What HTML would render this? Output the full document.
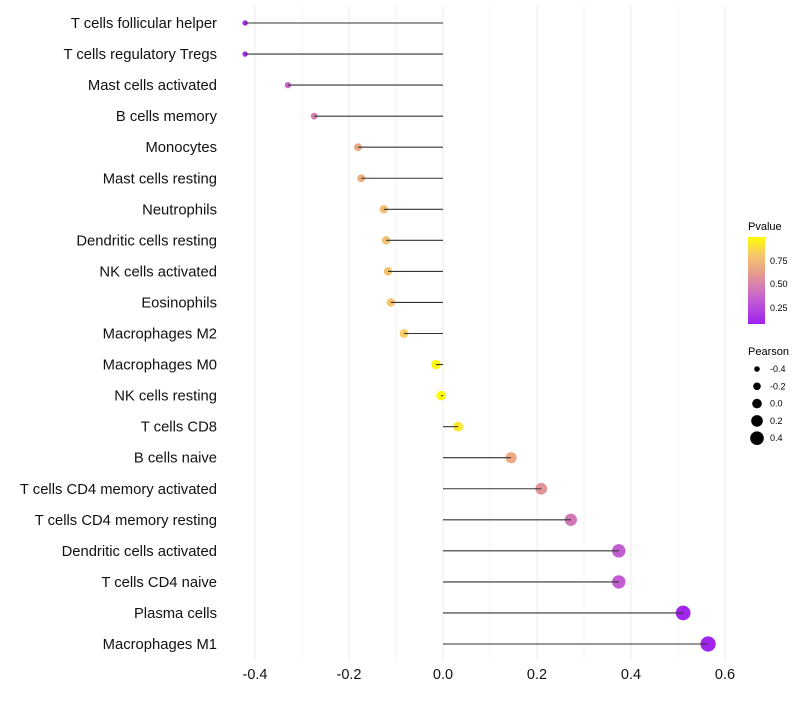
<!DOCTYPE html>
<html><head><meta charset="utf-8"><style>
body{margin:0;background:#fff;font-family:"Liberation Sans",sans-serif}
svg text{font-family:"Liberation Sans",sans-serif}
</style></head><body>
<svg id="c" width="800" height="700" xmlns="http://www.w3.org/2000/svg">
<defs><linearGradient id="pg" x1="0" y1="1" x2="0" y2="0">
<stop offset="0" stop-color="#a020f0"/><stop offset="0.3" stop-color="#c462cf"/>
<stop offset="0.6" stop-color="#e9a08a"/><stop offset="0.8" stop-color="#f5c76a"/><stop offset="1" stop-color="#ffff00"/>
</linearGradient></defs>
<g id="grid"></g><g id="dots"></g><g id="marks"></g><g id="labels"></g>
<g>
<text x="748" y="230" font-size="11">Pvalue</text>
<rect x="748" y="237" width="17" height="87" fill="url(#pg)"/>
<text x="770" y="264" font-size="9">0.75</text>
<text x="770" y="287" font-size="9">0.50</text>
<text x="770" y="311" font-size="9">0.25</text>
</g>
<g id="sizeleg">
<text x="748" y="355" font-size="11">Pearson</text>
</g>
</svg>
<script>
const categories=["T cells follicular helper","T cells regulatory  Tregs","Mast cells activated","B cells memory","Monocytes","Mast cells resting","Neutrophils","Dendritic cells resting","NK cells activated","Eosinophils","Macrophages M2","Macrophages M0","NK cells resting","T cells CD8","B cells naive","T cells CD4 memory activated","T cells CD4 memory resting","Dendritic cells activated","T cells CD4 naive","Plasma cells","Macrophages M1"];
const pearson=[-0.421,-0.421,-0.330,-0.274,-0.181,-0.174,-0.126,-0.121,-0.117,-0.111,-0.083,-0.015,-0.004,0.032,0.145,0.209,0.272,0.374,0.374,0.511,0.564];
const pvalue=[0.08,0.08,0.35,0.46,0.65,0.67,0.75,0.77,0.78,0.8,0.82,0.97,0.99,0.92,0.66,0.56,0.42,0.3,0.3,0.05,0.05];
const xTicks=[-0.4,-0.2,0.0,0.2,0.4,0.6];
const sizeTicks=[-0.4,-0.2,0.0,0.2,0.4];
const NS="http://www.w3.org/2000/svg";
const X=v=>443+v*470, Y=i=>23+i*31.05, R=v=>4.8+5*v;
const stops=[[0,[160,32,240]],[0.3,[196,98,207]],[0.6,[233,160,138]],[0.8,[245,199,106]],[1,[255,255,0]]];
function col(p){const t=Math.max(0,Math.min(1,(p-0.03)/0.97));for(let k=1;k<stops.length;k++){if(t<=stops[k][0]){const a=stops[k-1],b=stops[k],f=(t-a[0])/(b[0]-a[0]);return "rgb("+a[1].map((c,j)=>Math.round(c+(b[1][j]-c)*f)).join(",")+")";}}return "rgb(255,255,0)";}
function mk(t,a,p){const e=document.createElementNS(NS,t);for(const k in a)e.setAttribute(k,a[k]);(p||document.getElementById('c')).appendChild(e);return e;}
const grid=document.getElementById('grid'),marks=document.getElementById('marks'),dots=document.getElementById('dots'),labels=document.getElementById('labels');
for(let v=-0.4;v<=0.61;v+=0.1){const g=mk('line',{x1:X(v),x2:X(v),y1:5,y2:660,stroke:'#ebebeb','stroke-width':Math.abs(Math.round(v*10))%2==0?1:0.6},grid);

}
xTicks.forEach(v=>{const t=mk('text',{x:X(v),y:679,'font-size':14.5,'text-anchor':'middle',fill:'#111'},labels);t.textContent=v.toFixed(1);

});
categories.forEach((c,i)=>{const y=Y(i);
const t=mk('text',{x:217,y:y+5,'font-size':14.8,'text-anchor':'end',fill:'#111'},labels);t.textContent=c;


const d=mk('circle',{cx:X(pearson[i]),cy:y,r:R(pearson[i]),fill:col(pvalue[i])},dots);


const l=mk('line',{x1:X(0),x2:X(pearson[i]),y1:y,y2:y,stroke:'#333','stroke-width':1.1},marks);

});
const sl=document.getElementById('sizeleg');
sizeTicks.forEach((v,k)=>{const y=369+k*17.3;
const d=mk('circle',{cx:757,cy:y,r:R(v),fill:'#000'},sl);


const t=mk('text',{x:770,y:y+3,'font-size':9},sl);t.textContent=v.toFixed(1);

});
</script>
</body></html>
